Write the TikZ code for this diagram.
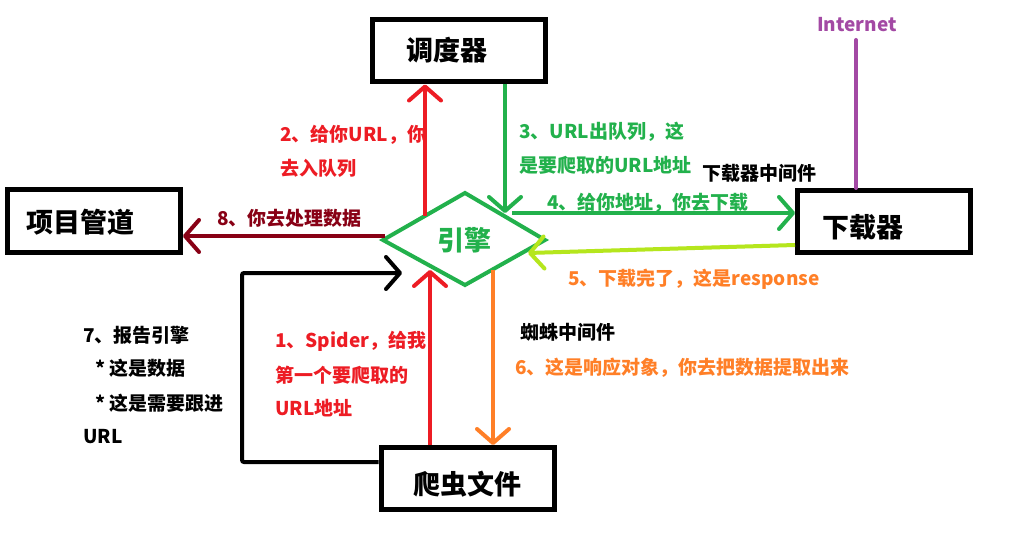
\documentclass[tikz,border=0pt]{standalone}
\usepackage{fontspec}
\setmainfont{Noto Sans CJK SC}
\usetikzlibrary{arrows.meta,calc}
\definecolor{cred}{HTML}{ED1C24}
\definecolor{cgreen}{HTML}{22B14C}
\definecolor{clime}{HTML}{B5E61D}
\definecolor{corange}{HTML}{FF7F27}
\definecolor{cdred}{HTML}{880015}
\definecolor{cpurple}{HTML}{A349A4}
\begin{document}
\begin{tikzpicture}[x=1pt,y=-1pt,
  box/.style={draw=black,line width=5pt,minimum width=173pt,minimum height=62pt,inner sep=0pt,fill=white},
  big/.style={font=\fontsize{27}{27}\selectfont\bfseries,inner sep=0pt},
  lbl/.style={font=\fontsize{19}{19}\selectfont\bfseries,inner sep=0pt,anchor=west},
  arr/.style={line width=4pt,-{Straight Barb[length=14pt,width=32pt,round]}},
  plain/.style={line width=4pt,line cap=round}
]
\useasboundingbox (0,0) rectangle (1009,548);
\fill[white] (0,0) rectangle (1009,548);

% boxes
\node[box] (sched) at (459,51) {};
\node[big] at (447,50) {调度器};
\node[box] (pipe) at (94,221) {};
\node[big] at (81,222) {项目管道};
\node[box] (dl) at (884,221.5) {};
\node[big] at (863,227) {下载器};
\node[box] (spider) at (467.5,478.5) {};
\node[big] at (467,484) {爬虫文件};

% engine diamond
\coordinate (dL) at (383,240);
\coordinate (dT) at (465,193);
\coordinate (dR) at (545,240);
\coordinate (dB) at (465,285);
\draw[cgreen,line width=4pt,line join=miter] (dL) -- (dT) -- (dR) -- (dB) -- cycle;
\node[big,text=cgreen] (eng) at (464,240) {引擎};

% connector end points on the engine
\coordinate (e2) at (425,216);
\coordinate (e3) at (505,213);
\coordinate (e4) at (512,213);
\coordinate (e5) at (528,253);
\coordinate (e6) at (493,270);
\coordinate (e1) at (430,270);
\coordinate (e7) at (402,273);
\coordinate (c7) at (242,273);
\coordinate (e8) at (385,236);
\coordinate (s5) at ($(dl.west)+(0,23.5)$);
\coordinate (s7) at ($(spider.west)+(0,-16.5)$);

% arrows
\draw[arr,cred] (e2) -- (e2 |- sched.south);
\draw[arr,cgreen] (e3 |- sched.south) -- (e3);
\draw[arr,cgreen] (e4) -- (e4 -| dl.west);
\draw[arr,clime] (s5) -- (e5);
\draw[arr,corange] (e6) -- (e6 |- spider.north);
\draw[arr,cred] (e1 |- spider.north) -- (e1);
\draw[arr,black,rounded corners=2pt] (s7) -| (c7) -- (e7);
\draw[arr,cdred] (e8) -- (e8 -| pipe.east);

% internet
\node[lbl,anchor=center,text=cpurple] (inet) at (857,25) {Internet};
\coordinate (i1) at (856,40);
\draw[plain,cpurple] (i1) -- (i1 |- dl.north);

% labels
\node[lbl,text=cred] at (280,135) {2、给你URL，你};
\node[lbl,text=cred] at (280,168) {去入队列};
\node[lbl,text=cgreen] at (519,132) {3、URL出队列，这};
\node[lbl,text=cgreen] at (519,165) {是要爬取的URL地址};
\node[lbl,text=cgreen] at (547,203) {4、给你地址，你去下载};
\node[lbl] at (702,173) {下载器中间件};
\node[lbl,text=cdred] at (217,218) {8、你去处理数据};
\node[lbl,text=corange] at (568,279) {5、下载完了，这是response};
\node[lbl] at (520,332) {蜘蛛中间件};
\node[lbl,text=corange] at (515,368) {6、这是响应对象，你去把数据提取出来};
\node[lbl,text=cred] at (275,341) {1、Spider，给我};
\node[lbl,text=cred] at (275,375) {第一个要爬取的};
\node[lbl,text=cred] at (275,408) {URL地址};
\node[lbl] at (83,335) {7、报告引擎};
\node[lbl] at (95,368) {* 这是数据};
\node[lbl] at (95,403) {* 这是需要跟进};
\node[lbl] at (83,437) {URL};
\end{tikzpicture}
\end{document}
